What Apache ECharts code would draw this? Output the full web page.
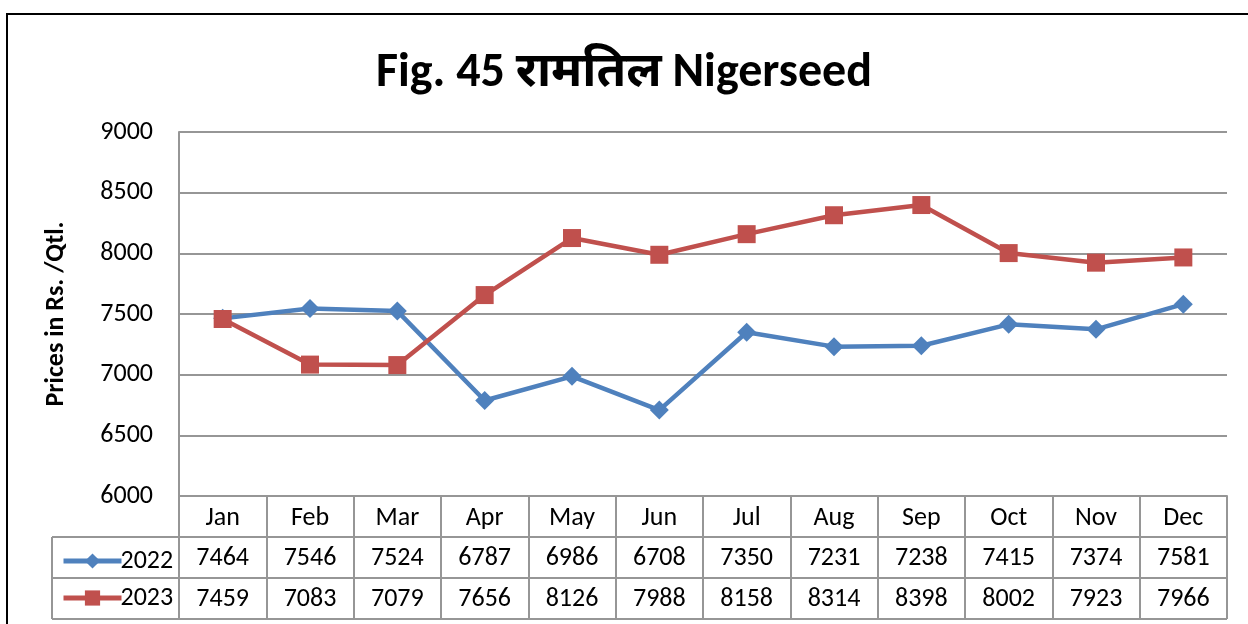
<!DOCTYPE html>
<html>
<head>
<meta charset="utf-8">
<script src="https://cdn.jsdelivr.net/npm/echarts@6/dist/echarts.min.js"></script>
<style>
  html, body { margin: 0; padding: 0; background: #fff; }
  #chart { width: 1248px; height: 624px; }
</style>
</head>
<body>
<div id="chart"></div>
<script>
// Monthly prices, Rs./Qtl.
const months = ['Jan', 'Feb', 'Mar', 'Apr', 'May', 'Jun', 'Jul', 'Aug', 'Sep', 'Oct', 'Nov', 'Dec'];
const prices2022 = [7464, 7546, 7524, 6787, 6986, 6708, 7350, 7231, 7238, 7415, 7374, 7581];
const prices2023 = [7459, 7083, 7079, 7656, 8126, 7988, 8158, 8314, 8398, 8002, 7923, 7966];
const seriesNames = ['2022', '2023'];
const yTicks = { min: 6000, max: 9000, step: 500 };

const FONT = 'Carlito, "Open Sans", "Noto Sans", sans-serif';
const BLUE = '#4F81BD';
const RED = '#C0504D';
const GRID_GRAY = '#969696';
const TXT = 26;

const chart = echarts.init(document.getElementById('chart'), null, { renderer: 'canvas' });

const gridBox = { left: 179, right: 21, top: 132, bottom: 128 };
const rowH = 41;

chart.setOption({
  animation: false,
  backgroundColor: '#fff',
  title: {
    text: 'Fig. 45 रामतिल Nigerseed',
    left: 'center',
    top: 45,
    textStyle: { fontFamily: FONT, fontSize: 48, fontWeight: 'bold', color: '#000' }
  },
  legend: {
    orient: 'vertical',
    left: 56,
    top: 543,
    itemWidth: 58,
    itemHeight: 19,
    itemGap: 11,
    data: seriesNames,
    lineStyle: { width: 5 },
    textStyle: { fontFamily: FONT, fontSize: TXT, color: '#000', padding: [0, 0, 0, -6] }
  },
  grid: gridBox,
  xAxis: {
    type: 'category',
    data: months,
    boundaryGap: true,
    axisLine: { show: true, lineStyle: { color: GRID_GRAY, width: 2 } },
    axisTick: { show: true, inside: false, length: rowH * 3, lineStyle: { color: GRID_GRAY, width: 2 } },
    axisLabel: { fontFamily: FONT, fontSize: TXT, color: '#000', margin: 9 },
    splitLine: { show: false }
  },
  yAxis: {
    type: 'value',
    min: yTicks.min,
    max: yTicks.max,
    interval: yTicks.step,
    name: 'Prices in Rs. /Qtl.',
    nameLocation: 'middle',
    nameGap: 110,
    nameRotate: 90,
    nameTextStyle: { fontFamily: FONT, fontSize: 26, fontWeight: 'bold', color: '#000' },
    axisLine: { show: true, lineStyle: { color: GRID_GRAY, width: 2 } },
    axisTick: { show: false },
    axisLabel: { fontFamily: FONT, fontSize: TXT, color: '#000', margin: 26, formatter: v => String(v) },
    splitLine: { show: true, lineStyle: { color: GRID_GRAY, width: 2 } }
  },
  series: [
    {
      name: seriesNames[0],
      type: 'line',
      data: prices2022,
      symbol: 'diamond',
      symbolSize: 19,
      itemStyle: { color: BLUE },
      lineStyle: { color: BLUE, width: 4.5 }
    },
    {
      name: seriesNames[1],
      type: 'line',
      data: prices2023,
      symbol: 'rect',
      symbolSize: 18,
      itemStyle: { color: RED },
      lineStyle: { color: RED, width: 4.5 }
    }
  ]
});

// Data table beneath the plot: borders, legend column and value cells
function buildTable() {
  const yBase = chart.convertToPixel({ yAxisIndex: 0 }, yTicks.min);
  const xRight = chart.getWidth() - gridBox.right;
  const legendLeft = 52;
  const els = [];
  const line = (x1, y1, x2, y2) => els.push({
    type: 'line', silent: true,
    shape: { x1, y1, x2, y2 },
    style: { stroke: GRID_GRAY, lineWidth: 2 }
  });
  // horizontal rules
  line(legendLeft, yBase + rowH, xRight, yBase + rowH);
  line(legendLeft, yBase + rowH * 2, xRight, yBase + rowH * 2);
  line(legendLeft, yBase + rowH * 3, xRight, yBase + rowH * 3);
  // left edge of the legend column
  line(legendLeft, yBase + rowH, legendLeft, yBase + rowH * 3);
  // right edge of the table
  line(xRight, yBase, xRight, yBase + rowH * 3);

  const rows = [prices2022, prices2023];
  rows.forEach((vals, r) => {
    vals.forEach((v, i) => {
      const cx = chart.convertToPixel({ xAxisIndex: 0 }, months[i]);
      els.push({
        type: 'text', silent: true,
        x: cx, y: yBase + rowH * (r + 1) + rowH / 2 + 1,
        style: {
          text: String(v), fontFamily: FONT, fontSize: TXT, fill: '#000',
          align: 'center', verticalAlign: 'middle'
        }
      });
    });
  });

  // outer frame
  els.push({
    type: 'rect', silent: true,
    shape: { x: 7, y: 14, width: 1260, height: 640 },
    style: { fill: 'none', stroke: '#000', lineWidth: 2 }
  });

  chart.setOption({ graphic: els });
}
buildTable();
</script>
</body>
</html>
